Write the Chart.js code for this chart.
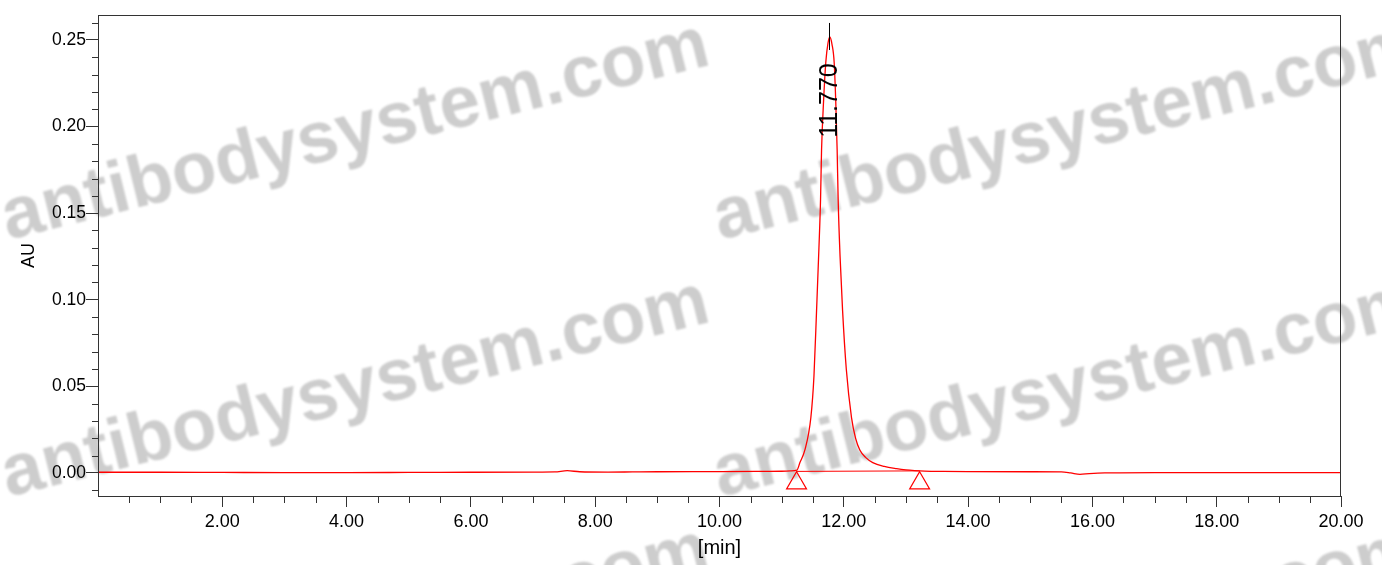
<!DOCTYPE html>
<html>
<head>
<meta charset="utf-8">
<script src="https://cdn.jsdelivr.net/npm/chart.js@4.4.1/dist/chart.umd.min.js"></script>
<style>
  html, body { margin: 0; padding: 0; background: #fff; }
  #wrap { width: 1382px; height: 565px; }
</style>
</head>
<body>
<div id="wrap"><canvas id="chrom"></canvas></div>
<script>
'use strict';

// ── Data ──────────────────────────────────────────────────
const timeMin = [0.0, 1.0, 2.0, 3.0, 4.0, 5.0, 6.0, 7.0, 7.35, 7.55, 7.75, 8.2, 8.6, 9.0, 10.0, 10.6,
  11.0, 11.15, 11.245, 11.294, 11.374, 11.47, 11.52, 11.562, 11.6, 11.626, 11.642, 11.675, 11.71, 11.745,
  11.775, 11.81, 11.845, 11.87, 11.893, 11.909, 11.94, 11.98, 12.04, 12.124, 12.19, 12.258, 12.35, 12.466,
  12.65, 12.85, 13.0, 13.14, 13.3, 13.6, 14.0, 15.0, 15.5, 15.65, 15.8, 15.95, 16.2, 17.0, 18.0, 19.0, 20.0];
const signalAU = [0.0004, 0.0004, 0.0003, 0.0002, 0.0002, 0.0003, 0.0004, 0.0005, 0.0006, 0.0013, 0.0007, 0.0005, 0.0006, 0.0007, 0.0008, 0.0009,
  0.0010, 0.0012, 0.0016, 0.0060, 0.0133, 0.0320, 0.0560, 0.0940, 0.1300, 0.1580, 0.1865, 0.2150, 0.2370, 0.2480,
  0.2517, 0.2475, 0.2370, 0.2150, 0.1865, 0.1580, 0.1250, 0.0940, 0.0600, 0.0320, 0.0200, 0.0133, 0.0090, 0.0060,
  0.0038, 0.0025, 0.0018, 0.0014, 0.0011, 0.0009, 0.0008, 0.0007, 0.0006, 0.0000, -0.0008, -0.0004, 0.0000, 0.0002, 0.0002, 0.0002, 0.0002];

// integration baseline (start / end of peak)
const integX = [11.24, 13.22];
const integY = [0.0009, 0.0012];
// start / end markers, drawn just below the baseline
const markY  = [-0.0059, -0.0059];

// retention-time marker
const peakRT    = 11.77;
const peakLabel = '11.770';
const rtMarkY   = [0.2442, 0.2598];

// ── Axes ──────────────────────────────────────────────────
const xMajorTicks = [2, 4, 6, 8, 10, 12, 14, 16, 18, 20];
const yMajorTicks = [0.00, 0.05, 0.10, 0.15, 0.20, 0.25];
const xMinorTicks = [];
for (let i = 1; i < 40; i++) if (i % 4) xMinorTicks.push(i * 0.5);
const yMinorTicks = [];
for (let i = -1; i <= 26; i++) if (i % 5) yMinorTicks.push(i / 100);

const watermark = 'antibodysystem.com';

const FONT = '"Liberation Sans", Arial, sans-serif';
const AXIS = '#333';
const RED  = '#ff0000';

// ── Plugins ───────────────────────────────────────────────
const watermarkPlugin = {
  id: 'watermark',
  beforeDraw(chart) {
    const ctx = chart.ctx;
    ctx.save();
    ctx.fillStyle = '#cdcdcd';
    ctx.filter = 'blur(0.8px)';
    ctx.font = `bold 73px ${FONT}`;
    for (const y of [240, 497, 745]) {
      for (const x of [8, 720]) {
        ctx.save();
        ctx.translate(x, y);
        ctx.rotate(-14 * Math.PI / 180);
        ctx.fillText(watermark, 0, 0);
        ctx.restore();
      }
    }
    ctx.restore();
  }
};

const framePlugin = {
  id: 'frame',
  afterDraw(chart) {
    const { ctx, chartArea: a, scales: { x, y } } = chart;
    ctx.save();
    ctx.strokeStyle = AXIS;
    ctx.lineWidth = 1;
    ctx.strokeRect(a.left + 0.5, a.top + 0.5, a.right - a.left - 1, a.bottom - a.top);
    ctx.beginPath();
    for (const v of xMinorTicks) {
      const px = Math.round(x.getPixelForValue(v)) + 0.5;
      ctx.moveTo(px, a.bottom);
      ctx.lineTo(px, a.bottom + 7);
    }
    for (const v of yMinorTicks) {
      const py = Math.round(y.getPixelForValue(v)) + 0.5;
      ctx.moveTo(a.left, py);
      ctx.lineTo(a.left - 6, py);
    }
    ctx.stroke();
    ctx.restore();
  }
};

const peakLabelPlugin = {
  id: 'peakLabel',
  afterDatasetsDraw(chart) {
    const { ctx, scales: { x, y } } = chart;
    ctx.save();
    ctx.translate(x.getPixelForValue(peakRT) + 7, y.getPixelForValue(0.215));
    ctx.rotate(-Math.PI / 2);
    ctx.fillStyle = '#000';
    ctx.font = `25px ${FONT}`;
    ctx.textAlign = 'center';
    ctx.textBaseline = 'alphabetic';
    ctx.fillText(peakLabel, 0, 0);
    ctx.restore();
  }
};

// ── Chart ─────────────────────────────────────────────────
const trace  = timeMin.map((t, i) => ({ x: t, y: signalAU[i] }));
const integ  = integX.map((t, i) => ({ x: t, y: integY[i] }));
const marks  = integX.map((t, i) => ({ x: t, y: markY[i] }));
const rtLine = rtMarkY.map(v => ({ x: peakRT, y: v }));

new Chart(document.getElementById('chrom'), {
  type: 'scatter',
  data: {
    datasets: [
      { data: rtLine, showLine: true, borderColor: '#000', borderWidth: 1, pointRadius: 0, order: 0 },
      { data: marks, pointStyle: 'triangle', pointRadius: 11.5, borderColor: RED,
        backgroundColor: 'rgba(0,0,0,0)', borderWidth: 1.2, order: 1 },
      { data: integ, showLine: true, borderColor: RED, borderWidth: 1, pointRadius: 0, order: 2 },
      { data: trace, showLine: true, borderColor: RED, borderWidth: 1.3, pointRadius: 0,
        cubicInterpolationMode: 'monotone', tension: 0.4, order: 3 }
    ]
  },
  options: {
    responsive: true,
    maintainAspectRatio: false,
    animation: false,
    layout: { padding: { top: 15, right: 41, left: 0, bottom: 0 } },
    plugins: { legend: { display: false }, tooltip: { enabled: false } },
    scales: {
      x: {
        type: 'linear', min: 0, max: 20,
        afterBuildTicks: s => { s.ticks = xMajorTicks.map(v => ({ value: v })); },
        afterFit: s => { s.height = 69; },
        ticks: { callback: v => v.toFixed(2), color: '#000', font: { family: FONT, size: 18 },
                 padding: 4, maxRotation: 0, autoSkip: false },
        grid: { drawOnChartArea: false, tickLength: 11, tickColor: AXIS },
        border: { color: AXIS },
        title: { display: true, text: '[min]', color: '#000', font: { family: FONT, size: 20 },
                 padding: { top: 0, bottom: 5 } }
      },
      y: {
        type: 'linear', min: -0.0133, max: 0.2644,
        afterBuildTicks: s => { s.ticks = yMajorTicks.map(v => ({ value: v })); },
        afterFit: s => { s.width = 98; },
        ticks: { callback: v => v.toFixed(2), color: '#000', font: { family: FONT, size: 17.5 },
                 padding: 0, autoSkip: false },
        grid: { drawOnChartArea: false, tickLength: 12, tickColor: AXIS },
        border: { color: AXIS },
        title: { display: true, text: 'AU', color: '#000', font: { family: FONT, size: 18 },
                 padding: { top: 18, bottom: 0 } }
      }
    }
  },
  plugins: [watermarkPlugin, framePlugin, peakLabelPlugin]
});
</script>
</body>
</html>
